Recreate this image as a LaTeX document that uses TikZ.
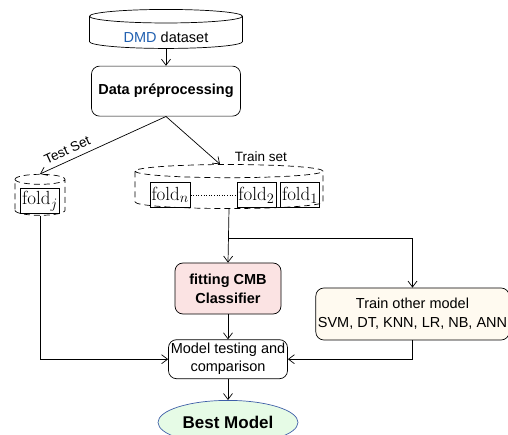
\documentclass[tikz,border=0pt]{standalone}
\usepackage{fontspec}
\usepackage{xcolor}
\usepackage{tikz}
\newfontfamily\arialfont{Liberation Sans}
\usetikzlibrary{shapes.geometric, arrows.meta, positioning, calc}
\definecolor{dmdblue}{HTML}{2160B0}
\definecolor{cmbpink}{HTML}{FBE3E3}
\definecolor{othercream}{HTML}{FFFAF0}
\definecolor{bestgreen}{HTML}{E6FBE6}
\definecolor{bestborder}{HTML}{3F5FA8}
\tikzstyle{arrow} = [line width=0.7pt,->,>={Straight Barb[length=6pt,width=9pt]}]
\tikzstyle{process} = [rectangle, rounded corners=8pt, draw=black, line width=0.7pt, text centered, inner sep=2pt, font=\arialfont\fontsize{14.5}{19}\selectfont]
\tikzstyle{database} = [cylinder, shape border rotate=90, shape aspect=0.16, draw=black, line width=0.7pt, inner sep=0pt, font=\arialfont\fontsize{14.5}{17}\selectfont]
\tikzstyle{foldset} = [cylinder, shape border rotate=90, draw=black, line width=0.7pt, dashed, dash pattern=on 6pt off 4pt, inner sep=0pt]
\tikzstyle{fold} = [rectangle, draw=black, line width=0.6pt, inner sep=1.5pt, minimum height=25pt, font=\fontsize{19}{22}\selectfont]
\tikzstyle{setlabel} = [font=\arialfont\fontsize{13.5}{16}\selectfont]

\begin{document}
\begin{tikzpicture}[x=1pt, y=-1pt, node distance=20pt]
    \useasboundingbox (0,0) rectangle (508,435);
    % Data
    \node[database, minimum width=153pt, minimum height=39pt] (dmd) at (166,32.5) {\raisebox{-10.5pt}[0pt][0pt]{\textcolor{dmdblue}{DMD} dataset}};
    \node[process, below=17pt of dmd, minimum width=149pt, minimum height=50pt, font=\arialfont\bfseries\fontsize{14.5}{17}\selectfont] (prep) {Data préprocessing};

    % Folds
    \node[foldset, shape aspect=0.2, text width=50pt, minimum height=41pt] (testset) at (40,197.5) {};
    \node[fold] (foldj) at (40,201) {fold$_j$};
    \node[foldset, shape aspect=0.07, text width=188pt, minimum height=44pt] (trainset) at (229,190) {};
    \node[fold] (fold1) at (300,195) {fold$_1$};
    \node[fold, left=4pt of fold1] (fold2) {fold$_2$};
    \node[fold, left=46pt of fold2] (foldn) {fold$_n$};
    \draw[dotted, line width=0.6pt] (foldn) -- (fold2);
    \node[setlabel] (trainlbl) at (261,157) {Train set};

    % Models
    \node[process, fill=cmbpink, minimum width=106pt, minimum height=51pt, align=center, font=\arialfont\bfseries\fontsize{14.5}{19}\selectfont] (fitting) at (228,288.5) {fitting CMB\\Classifier};
    \node[process, fill=othercream, minimum width=191pt, minimum height=52pt, align=center] (other) at (412.5,314) {Train other model\\SVM, DT, KNN, LR, NB, ANN};
    \node[process, below=25pt of fitting, minimum width=119pt, minimum height=39pt, align=center, font=\arialfont\fontsize{14.5}{18}\selectfont] (model) {Model testing and\\comparison};
    \node[ellipse, draw=bestborder, fill=bestgreen, line width=0.7pt, below=21pt of model, minimum width=140pt, minimum height=44pt, font=\arialfont\bfseries\fontsize{17}{20}\selectfont] (best) {Best Model};
    \coordinate (split) at (228,238);

    % Arrows
    \draw[arrow] (dmd) -- (prep);
    \draw[arrow] (prep.south) -- node[setlabel, pos=0.75, above=2pt, sloped] {Test Set} (testset.north);
    \draw[arrow] (prep.south) -- ($(trainset.north)+(-9,0)$);
    \draw[arrow] (trainset.south) -- (fitting.north);
    \draw[arrow] (split) -| (other.north);
    \draw[arrow] (fitting) -- (model);
    \draw[arrow] (other.south) |- (model.east);
    \draw[arrow] (testset.south) |- (model.west);
    \draw[arrow] (model) -- (best);

\end{tikzpicture}
\end{document}
